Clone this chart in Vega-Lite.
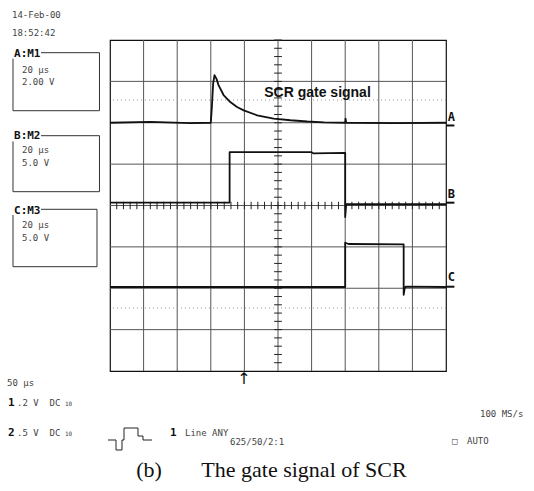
{
  "$schema": "https://vega.github.io/schema/vega-lite/v6.json",
  "width": 336,
  "height": 331,
  "autosize": {"type": "none"},
  "padding": {"left": 110, "top": 40, "right": 88, "bottom": 120},
  "background": "white",
  "config": {"view": {"stroke": "#111", "strokeWidth": 1.2}},
  "datasets": {
    "traces": [
      {"ch": "A", "i": 0, "t": 0, "v": 6.0},
      {"ch": "A", "i": 1, "t": 1.2, "v": 6.02},
      {"ch": "A", "i": 2, "t": 2.4, "v": 5.99},
      {"ch": "A", "i": 3, "t": 3.0, "v": 6.0},
      {"ch": "A", "i": 4, "t": 3.03, "v": 6.35},
      {"ch": "A", "i": 5, "t": 3.07, "v": 6.95},
      {"ch": "A", "i": 6, "t": 3.11, "v": 7.15},
      {"ch": "A", "i": 7, "t": 3.17, "v": 7.06},
      {"ch": "A", "i": 8, "t": 3.23, "v": 6.91},
      {"ch": "A", "i": 9, "t": 3.38, "v": 6.67},
      {"ch": "A", "i": 10, "t": 3.58, "v": 6.5},
      {"ch": "A", "i": 11, "t": 3.78, "v": 6.38},
      {"ch": "A", "i": 12, "t": 3.98, "v": 6.3},
      {"ch": "A", "i": 13, "t": 4.38, "v": 6.18},
      {"ch": "A", "i": 14, "t": 4.87, "v": 6.1},
      {"ch": "A", "i": 15, "t": 5.37, "v": 6.06},
      {"ch": "A", "i": 16, "t": 5.87, "v": 6.03},
      {"ch": "A", "i": 17, "t": 6.37, "v": 6.01},
      {"ch": "A", "i": 18, "t": 7.0, "v": 6.0},
      {"ch": "A", "i": 19, "t": 7.01, "v": 6.1},
      {"ch": "A", "i": 20, "t": 7.03, "v": 6.0},
      {"ch": "A", "i": 21, "t": 8.5, "v": 5.99},
      {"ch": "A", "i": 22, "t": 10, "v": 6.0},
      {"ch": "B", "i": 0, "t": 0, "v": 4.07},
      {"ch": "B", "i": 1, "t": 3.56, "v": 4.07},
      {"ch": "B", "i": 2, "t": 3.56, "v": 5.29},
      {"ch": "B", "i": 3, "t": 6.0, "v": 5.29},
      {"ch": "B", "i": 4, "t": 6.05, "v": 5.26},
      {"ch": "B", "i": 5, "t": 7.0, "v": 5.27},
      {"ch": "B", "i": 6, "t": 7.0, "v": 3.72},
      {"ch": "B", "i": 7, "t": 7.03, "v": 4.03},
      {"ch": "B", "i": 8, "t": 10, "v": 4.03},
      {"ch": "C", "i": 0, "t": 0, "v": 2.03},
      {"ch": "C", "i": 1, "t": 7.0, "v": 2.03},
      {"ch": "C", "i": 2, "t": 7.0, "v": 3.1},
      {"ch": "C", "i": 3, "t": 7.1, "v": 3.07},
      {"ch": "C", "i": 4, "t": 8.74, "v": 3.06},
      {"ch": "C", "i": 5, "t": 8.74, "v": 1.84},
      {"ch": "C", "i": 6, "t": 8.77, "v": 2.0},
      {"ch": "C", "i": 7, "t": 8.8, "v": 2.04},
      {"ch": "C", "i": 8, "t": 10, "v": 2.03}
    ],
    "gridx": [{"g": 1}, {"g": 2}, {"g": 3}, {"g": 4}, {"g": 5}, {"g": 6}, {"g": 7}, {"g": 8}, {"g": 9}],
    "gridy": [{"g": 1}, {"g": 2}, {"g": 3}, {"g": 4}, {"g": 5}, {"g": 6}, {"g": 7}],
    "minor": [
      {"p": 0.2}, {"p": 0.4}, {"p": 0.6}, {"p": 0.8}, {"p": 1.2}, {"p": 1.4}, {"p": 1.6}, {"p": 1.8},
      {"p": 2.2}, {"p": 2.4}, {"p": 2.6}, {"p": 2.8}, {"p": 3.2}, {"p": 3.4}, {"p": 3.6}, {"p": 3.8},
      {"p": 4.2}, {"p": 4.4}, {"p": 4.6}, {"p": 4.8}, {"p": 5.2}, {"p": 5.4}, {"p": 5.6}, {"p": 5.8},
      {"p": 6.2}, {"p": 6.4}, {"p": 6.6}, {"p": 6.8}, {"p": 7.2}, {"p": 7.4}, {"p": 7.6}, {"p": 7.8},
      {"p": 8.2}, {"p": 8.4}, {"p": 8.6}, {"p": 8.8}, {"p": 9.2}, {"p": 9.4}, {"p": 9.6}, {"p": 9.8},
      {"p": 1}, {"p": 2}, {"p": 3}, {"p": 4}, {"p": 5}, {"p": 6}, {"p": 7}, {"p": 8}, {"p": 9}
    ],
    "boxes": [
      {"x": -2.054, "x2": -0.313, "y": 7.693, "y2": 7.693},
      {"x": -0.313, "x2": -0.313, "y": 7.693, "y2": 6.291},
      {"x": -2.887, "x2": -0.313, "y": 6.291, "y2": 6.291},
      {"x": -2.887, "x2": -2.887, "y": 7.55, "y2": 6.291},
      {"x": -2.054, "x2": -0.313, "y": 5.687, "y2": 5.687},
      {"x": -0.313, "x2": -0.313, "y": 5.687, "y2": 4.334},
      {"x": -2.887, "x2": -0.313, "y": 4.334, "y2": 4.334},
      {"x": -2.887, "x2": -2.887, "y": 5.55, "y2": 4.334},
      {"x": -2.054, "x2": -0.387, "y": 3.908, "y2": 3.908},
      {"x": -0.387, "x2": -0.387, "y": 3.908, "y2": 2.521},
      {"x": -2.887, "x2": -0.387, "y": 2.521, "y2": 2.521},
      {"x": -2.887, "x2": -2.887, "y": 3.77, "y2": 2.521}
    ],
    "glyph": [
      {"i": 0, "x": -0.06, "y": -1.668},
      {"i": 1, "x": 0.179, "y": -1.668},
      {"i": 2, "x": 0.179, "y": -1.909},
      {"i": 3, "x": 0.357, "y": -1.909},
      {"i": 4, "x": 0.357, "y": -1.668},
      {"i": 5, "x": 0.417, "y": -1.668},
      {"i": 6, "x": 0.417, "y": -1.378},
      {"i": 7, "x": 0.833, "y": -1.378},
      {"i": 8, "x": 0.833, "y": -1.571},
      {"i": 9, "x": 0.982, "y": -1.571},
      {"i": 10, "x": 0.982, "y": -1.668},
      {"i": 11, "x": 1.25, "y": -1.668}
    ],
    "monotext": [
      {"x": -2.917, "y": 8.604, "s": "14-Feb-00"},
      {"x": -2.917, "y": 8.169, "s": "18:52:42"},
      {"x": -2.619, "y": 7.275, "s": "20 µs"},
      {"x": -2.619, "y": 6.985, "s": "2.00 V"},
      {"x": -2.619, "y": 5.341, "s": "20 µs"},
      {"x": -2.619, "y": 5.027, "s": "5.0 V"},
      {"x": -2.619, "y": 3.529, "s": "20 µs"},
      {"x": -2.619, "y": 3.215, "s": "5.0 V"},
      {"x": -3.065, "y": -0.29, "s": "50 µs"},
      {"x": -2.768, "y": -0.773, "s": ".2\u00a0V\u00a0\u00a0DC"},
      {"x": -2.768, "y": -1.498, "s": ".5\u00a0V\u00a0\u00a0DC"},
      {"x": 2.232, "y": -1.498, "s": "Line ANY"},
      {"x": 3.571, "y": -1.716, "s": "625/50/2:1"},
      {"x": 11.012, "y": -1.039, "s": "100 MS/s"},
      {"x": 10.179, "y": -1.692, "s": "□"},
      {"x": 10.625, "y": -1.692, "s": "AUTO"}
    ],
    "boldtext": [
      {"x": -2.857, "y": 7.662, "s": "A:M1"},
      {"x": -2.857, "y": 5.68, "s": "B:M2"},
      {"x": -2.857, "y": 3.879, "s": "C:M3"},
      {"x": -3.036, "y": -0.773, "s": "1"},
      {"x": -3.036, "y": -1.498, "s": "2"},
      {"x": 1.786, "y": -1.498, "s": "1"}
    ],
    "tiny": [
      {"x": -1.339, "y": -0.79, "s": "10"},
      {"x": -1.339, "y": -1.515, "s": "10"}
    ],
    "chlabels": [
      {"x": 10.05, "y": 6.13, "s": "A", "u": 5.934},
      {"x": 10.05, "y": 4.27, "s": "B", "u": 4.068},
      {"x": 10.05, "y": 2.27, "s": "C", "u": 2.037}
    ],
    "dotted": [{"y": 6.55}, {"y": 1.523}]
  },
  "layer": [
    {
      "data": {"name": "gridx"},
      "mark": {"type": "rule", "color": "#555", "strokeWidth": 1},
      "encoding": {
        "x": {"field": "g", "type": "quantitative", "scale": {"domain": [0, 10], "nice": false, "zero": false}, "axis": null}
      }
    },
    {
      "data": {"name": "gridy"},
      "mark": {"type": "rule", "color": "#555", "strokeWidth": 1},
      "encoding": {
        "y": {"field": "g", "type": "quantitative", "scale": {"domain": [0, 8], "nice": false, "zero": false}, "axis": null}
      }
    },
    {
      "data": {"name": "dotted"},
      "mark": {"type": "rule", "color": "#999", "strokeDash": [1, 3], "strokeWidth": 1},
      "encoding": {
        "y": {"field": "y", "type": "quantitative", "axis": null}
      }
    },
    {
      "data": {"name": "minor"},
      "mark": {"type": "rule", "color": "#222", "strokeWidth": 1},
      "encoding": {
        "x": {"field": "p", "type": "quantitative", "axis": null},
        "y": {"datum": 3.91, "axis": null},
        "y2": {"datum": 4.09}
      }
    },
    {
      "data": {"name": "minor"},
      "transform": [{"filter": "datum.p <= 8"}],
      "mark": {"type": "rule", "color": "#222", "strokeWidth": 1},
      "encoding": {
        "y": {"field": "p", "type": "quantitative", "axis": null},
        "x": {"datum": 4.885, "axis": null},
        "x2": {"datum": 5.115}
      }
    },
    {
      "data": {"name": "traces"},
      "mark": {"type": "line", "color": "#111", "strokeWidth": 1.8, "strokeJoin": "round"},
      "encoding": {
        "x": {"field": "t", "type": "quantitative", "axis": null},
        "y": {"field": "v", "type": "quantitative", "axis": null},
        "detail": {"field": "ch"},
        "order": {"field": "i", "type": "quantitative"}
      }
    },
    {
      "data": {"name": "chlabels"},
      "mark": {"type": "rule", "color": "#111", "strokeWidth": 2},
      "encoding": {
        "y": {"field": "u", "type": "quantitative", "axis": null},
        "x": {"datum": 10.0, "axis": null},
        "x2": {"datum": 10.25}
      }
    },
    {
      "data": {"name": "chlabels"},
      "mark": {"type": "text", "align": "left", "baseline": "middle", "font": "DejaVu Sans Mono", "fontWeight": "bold", "fontSize": 12, "color": "#111"},
      "encoding": {
        "x": {"field": "x", "type": "quantitative", "axis": null},
        "y": {"field": "y", "type": "quantitative", "axis": null},
        "text": {"field": "s"}
      }
    },
    {
      "data": {"name": "boxes"},
      "mark": {"type": "rule", "color": "#333", "strokeWidth": 1},
      "encoding": {
        "x": {"field": "x", "type": "quantitative", "axis": null},
        "x2": {"field": "x2"},
        "y": {"field": "y", "type": "quantitative", "axis": null},
        "y2": {"field": "y2"}
      }
    },
    {
      "data": {"name": "glyph"},
      "mark": {"type": "line", "color": "#222", "strokeWidth": 1},
      "encoding": {
        "x": {"field": "x", "type": "quantitative", "axis": null},
        "y": {"field": "y", "type": "quantitative", "axis": null},
        "order": {"field": "i", "type": "quantitative"}
      }
    },
    {
      "data": {"name": "monotext"},
      "mark": {"type": "text", "align": "left", "baseline": "middle", "font": "DejaVu Sans Mono", "fontSize": 9, "color": "#444"},
      "encoding": {
        "x": {"field": "x", "type": "quantitative", "axis": null},
        "y": {"field": "y", "type": "quantitative", "axis": null},
        "text": {"field": "s"}
      }
    },
    {
      "data": {"name": "tiny"},
      "mark": {"type": "text", "align": "left", "baseline": "middle", "font": "DejaVu Sans Mono", "fontSize": 6, "color": "#444"},
      "encoding": {
        "x": {"field": "x", "type": "quantitative", "axis": null},
        "y": {"field": "y", "type": "quantitative", "axis": null},
        "text": {"field": "s"}
      }
    },
    {
      "data": {"name": "boldtext"},
      "mark": {"type": "text", "align": "left", "baseline": "middle", "font": "DejaVu Sans Mono", "fontWeight": "bold", "fontSize": 11, "color": "#111"},
      "encoding": {
        "x": {"field": "x", "type": "quantitative", "axis": null},
        "y": {"field": "y", "type": "quantitative", "axis": null},
        "text": {"field": "s"}
      }
    },
    {
      "data": {"values": [{"x": 6.176, "y": 6.719, "s": "SCR gate signal"}]},
      "mark": {"type": "text", "align": "center", "baseline": "middle", "font": "Liberation Sans", "fontWeight": "bold", "fontSize": 14, "color": "#111"},
      "encoding": {
        "x": {"field": "x", "type": "quantitative", "axis": null},
        "y": {"field": "y", "type": "quantitative", "axis": null},
        "text": {"field": "s"}
      }
    },
    {
      "data": {"values": [{"x": 3.988, "y": -0.2, "s": "↑"}]},
      "mark": {"type": "text", "align": "center", "baseline": "middle", "font": "DejaVu Sans", "fontSize": 16, "color": "#111"},
      "encoding": {
        "x": {"field": "x", "type": "quantitative", "axis": null},
        "y": {"field": "y", "type": "quantitative", "axis": null},
        "text": {"field": "s"}
      }
    },
    {
      "data": {"values": [{"x": 1.161, "y": -2.393, "s": "(b)"}, {"x": 5.774, "y": -2.393, "s": "The gate signal of SCR"}]},
      "mark": {"type": "text", "align": "center", "baseline": "middle", "font": "Liberation Serif", "fontSize": 22, "color": "#111"},
      "encoding": {
        "x": {"field": "x", "type": "quantitative", "axis": null},
        "y": {"field": "y", "type": "quantitative", "axis": null},
        "text": {"field": "s"}
      }
    }
  ]
}
